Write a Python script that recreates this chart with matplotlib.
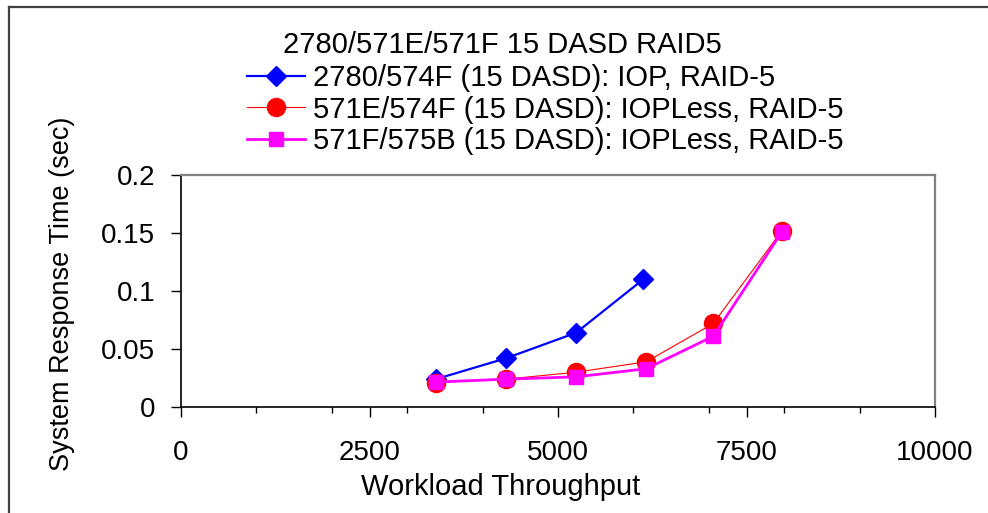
import matplotlib
matplotlib.use("Agg")
import matplotlib.pyplot as plt
import matplotlib.ticker as mticker
from matplotlib.lines import Line2D

plt.rcParams["font.family"] = ["Liberation Sans", "DejaVu Sans"]

# ── data ──────────────────────────────────────────────────────────────────────
iop_x = [3380, 4310, 5240, 6130]
iop_y = [0.024, 0.042, 0.064, 0.110]

e571_x = [3380, 4310, 5240, 6170, 7060, 7970]
e571_y = [0.021, 0.024, 0.030, 0.039, 0.072, 0.152]

f571_x = [3380, 4310, 5240, 6170, 7060, 7970]
f571_y = [0.0215, 0.024, 0.026, 0.033, 0.061, 0.151]

labels = [
    "2780/574F (15 DASD): IOP, RAID-5",
    "571E/574F (15 DASD): IOPLess, RAID-5",
    "571F/575B (15 DASD): IOPLess, RAID-5",
]
title = "2780/571E/571F 15 DASD RAID5"

W, H = 988, 513
fig = plt.figure(figsize=(W / 100, H / 100), dpi=100)
ax = fig.add_axes([181 / W, 1 - 407 / H, (935 - 181) / W, (407 - 175) / H])

l1, = ax.plot(iop_x, iop_y, color="#0000FF", lw=1.6, marker="D", ms=10,
              mec="#0000FF", mfc="#0000FF", zorder=3)
l2, = ax.plot(e571_x, e571_y, color="#FF0000", lw=0.8, marker="o", ms=13,
              mec="#FF0000", mfc="#FF0000", zorder=4)
l3, = ax.plot(f571_x, f571_y, color="#FF00FF", lw=2.0, marker="s", ms=9.5,
              mec="#FF00FF", mfc="#FF00FF", zorder=5)

ax.set_xlim(0, 10000)
ax.set_ylim(0, 0.2)
ax.xaxis.set_major_locator(mticker.MultipleLocator(2500))
ax.xaxis.set_minor_locator(mticker.MultipleLocator(1000))
ax.yaxis.set_major_locator(mticker.MultipleLocator(0.05))
ax.yaxis.set_major_formatter(mticker.FuncFormatter(lambda v, _: f"{v:g}"))

ax.tick_params(axis="x", which="major", length=7.5, width=1, direction="out",
               labelsize=20, pad=16)
ax.tick_params(axis="x", which="minor", length=4, width=1, direction="out")
ax.tick_params(axis="y", which="major", length=7.5, width=1, direction="out",
               labelsize=20, pad=11)

for s in ["left", "bottom"]:
    ax.spines[s].set_color("black")
    ax.spines[s].set_linewidth(1.2)
for s in ["top", "right"]:
    ax.spines[s].set_color("#808080")
    ax.spines[s].set_linewidth(1.6)

ax.set_xlabel("Workload Throughput", fontsize=21)
ax.xaxis.set_label_coords((501 - 181) / (935 - 181), -(487 - 407) / (407 - 175),
                          transform=ax.transAxes)
ax.xaxis.label.set_va("center")
ax.set_ylabel("System Response Time (sec)", fontsize=19.5)
ax.yaxis.set_label_coords(-(181 - 62) / (935 - 181), (407 - 294) / (407 - 175))
ax.yaxis.label.set_va("center")

fig.text(502 / W, 1 - 45 / H, title, fontsize=21, ha="center", va="center")

fs = 21
fs_px = fs * 100 / 72
fig.legend([l1, l2, l3], labels, loc="upper left",
           bbox_to_anchor=(247 / W, 1 - 64 / H), frameon=False, fontsize=fs,
           handlelength=(305 - 247) / fs_px, handletextpad=(313 - 305) / fs_px,
           labelspacing=0.12, borderpad=0, borderaxespad=0)

# outer chart-area frame (left and top edges visible in the reference)
fig.add_artist(Line2D([9 / W, 9 / W], [0, 1 - 7 / H], transform=fig.transFigure,
                      color="#404040", lw=1.6))
fig.add_artist(Line2D([9 / W, 1], [1 - 7 / H, 1 - 7 / H], transform=fig.transFigure,
                      color="#404040", lw=1.6))

fig.savefig("out.png", dpi=100)
